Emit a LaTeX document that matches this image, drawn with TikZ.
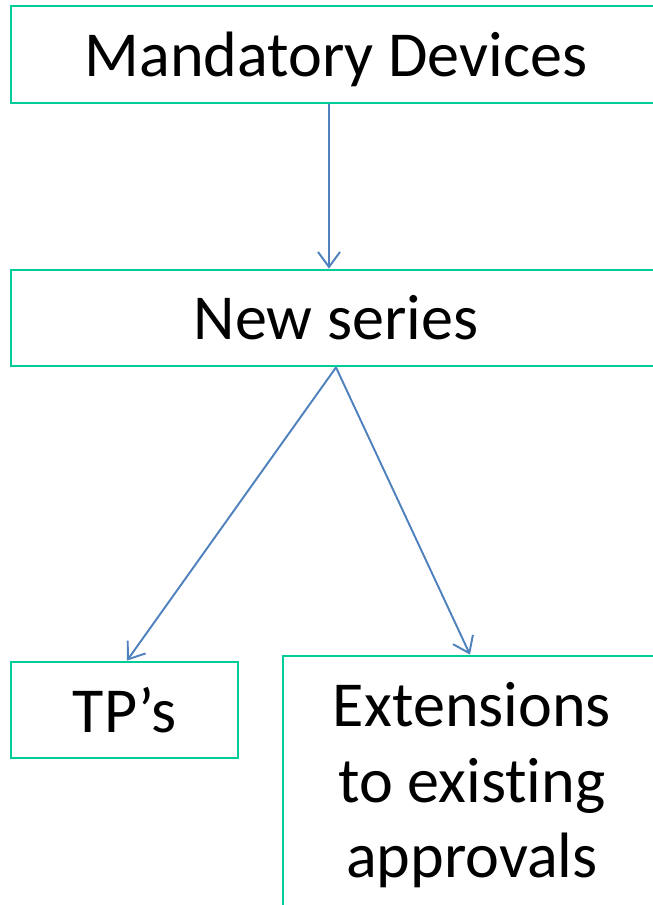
\documentclass[tikz,border=0pt]{standalone}
\usepackage{fontspec}
\setmainfont[Ligatures={NoCommon}]{Carlito}
\usetikzlibrary{arrows.meta, positioning}
\definecolor{boxgreen}{RGB}{0,204,153}
\definecolor{arrowblue}{RGB}{79,129,189}

\begin{document}
\begin{tikzpicture}[x=0.02cm, y=-0.02cm,
		box/.style={draw=boxgreen, line width=1.6pt, inner sep=0pt, align=center, font=\fontsize{36.5}{43}\selectfont},
		link/.style={-{Straight Barb[length=0.3cm, width=0.44cm, line width=1.1pt]}, draw=arrowblue, line width=1.1pt}]
		\useasboundingbox (0,0) rectangle (652,905);

		\node(mandatory)  [box, text depth=0pt, minimum width = 13cm, minimum height = 1.94cm] at (336,54.5)  {Mandatory Devices};
		\node(newseries)  [box, minimum width = 13cm, minimum height = 1.92cm] at (336,318)  {New series};

		\node(tps)  [box, minimum width = 4.54cm, minimum height = 1.92cm] at (124.5,710)  {TP’s};
		\node(extensions)  [box, minimum width = 7.56cm, minimum height = 5.18cm] at (472,785.5)  {Extensions\\to existing\\approvals};

		\draw[link] ([xshift=-0.14cm]mandatory.south) -- ([xshift=-0.14cm]newseries.north);

		\draw[link] (newseries.south) -- ([xshift=0.05cm]tps.north);
		\draw[link] (newseries.south) -- ([xshift=-0.04cm]extensions.north);
\end{tikzpicture}
\end{document}
